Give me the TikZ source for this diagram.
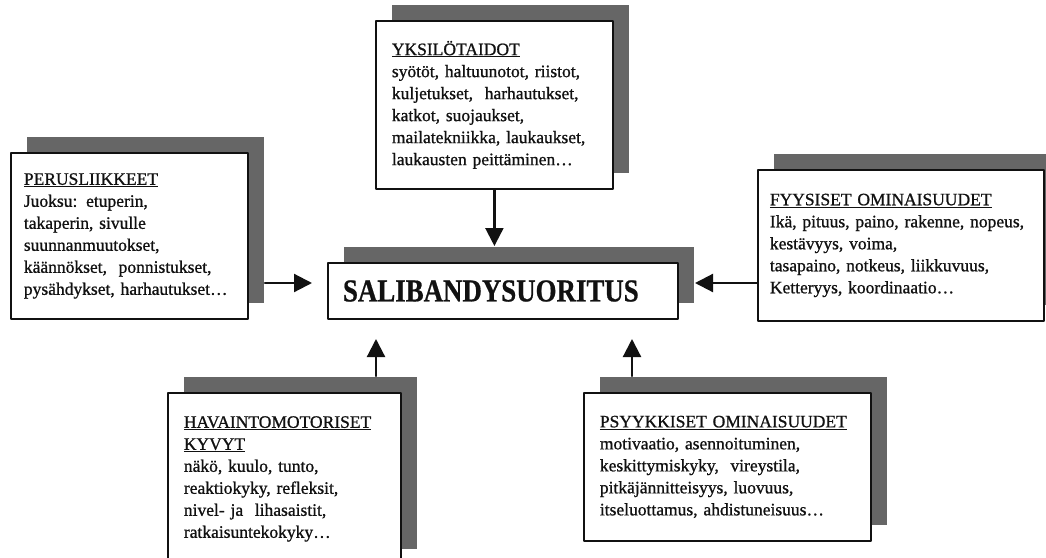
\documentclass[tikz,border=0pt]{standalone}
\usepackage{fontspec}
\setmainfont{Liberation Serif}
\newfontfamily\scanfont[FakeBold=0.9]{Liberation Serif}
\newfontfamily\titlefont[FakeStretch=0.84,FakeBold=0.6]{Liberation Serif Bold}
\usetikzlibrary{arrows.meta,positioning,shadows}
\definecolor{salShade}{HTML}{666666}
\definecolor{salInk}{HTML}{111111}

\begin{document}
\begin{tikzpicture}[x=1pt,y=-1pt,>=Latex,line cap=round,line join=round]
\clip (0,0) rectangle (1046,557);
\path[fill=white] (0,0) rectangle (1046,557);
\tikzset{infobox/.style={draw=salInk,fill=white,line width=1.8pt,anchor=north west,align=left,inner xsep=16pt,text=salInk,font=\scanfont\fontsize{17.5}{22}\selectfont,general shadow={shadow xshift=16pt,shadow yshift=16pt,fill=salShade}},mainbox/.style={draw=salInk,fill=white,line width=2pt,anchor=north west,align=left,inner xsep=15pt,text=salInk,font=\titlefont\fontsize{32}{34}\selectfont,general shadow={shadow xshift=16pt,shadow yshift=16pt,fill=salShade}},arr/.style={draw=salInk,line width=2.2pt,-{Triangle[length=18pt,width=18pt]}}}
\node[mainbox,text width=320pt,minimum height=56pt] (salib) at (327,262) {SALIBANDYSUORITUS};
\node[infobox,text width=205pt,minimum height=168pt] (yksi) at (375,20) {\underline{YKSILÖTAIDOT}\\syötöt, haltuunotot, riistot,\\kuljetukset,~ harhautukset,\\katkot, suojaukset,\\mailatekniikka, laukaukset,\\laukausten peittäminen…};
\node[infobox,text width=211pt,minimum height=166pt,inner xsep=13pt] (perus) at (10,152) {\underline{PERUSLIIKKEET}\\Juoksu: etuperin,\\takaperin, sivulle\\suunnanmuutokset,\\käännökset,~ ponnistukset,\\pysähdykset, harhautukset…};
\node[infobox,text width=262pt,minimum height=151pt,inner xsep=12pt] (fyys) at (757,169) {\underline{FYYSISET OMINAISUUDET}\\Ikä, pituus, paino, rakenne, nopeus,\\kestävyys, voima,\\tasapaino, notkeus, liikkuvuus,\\Ketteryys, koordinaatio…};
\node[infobox,text width=201pt,minimum height=172pt] (havain) at (167,392) {\underline{HAVAINTOMOTORISET}\\\underline{KYVYT}\\näkö, kuulo, tunto,\\reaktiokyky, refleksit,\\nivel-~ja~ lihasaistit,\\ratkaisuntekokyky…};
\node[infobox,text width=255pt,minimum height=148pt] (psyyk) at (583,392) {\underline{PSYYKKISET OMINAISUUDET}\\motivaatio, asennoituminen,\\keskittymiskyky,~ vireystila,\\pitkäjännitteisyys, luovuus,\\itseluottamus, ahdistuneisuus…};
% arrow ends round the main box
\coordinate (inT) at ([yshift=16pt]salib.north);
\coordinate (inL) at ([xshift=-15pt,yshift=8pt]salib.west);
\coordinate (inR) at ([xshift=16pt,yshift=8pt]salib.east);
\coordinate (inBL) at ([xshift=49pt,yshift=-19pt]salib.south west);
\coordinate (inBR) at ([xshift=-47pt,yshift=-19pt]salib.south east);
\draw[arr] (yksi.south) -- (yksi.south |- inT);
\draw[arr] ([xshift=16pt]perus.east |- inL) -- (inL);
\draw[arr] (fyys.west |- inR) -- (inR);
\draw[arr] ([yshift=16pt]havain.north -| inBL) -- (inBL);
\draw[arr] ([yshift=16pt]psyyk.north -| inBR) -- (inBR);
\end{tikzpicture}
\end{document}
